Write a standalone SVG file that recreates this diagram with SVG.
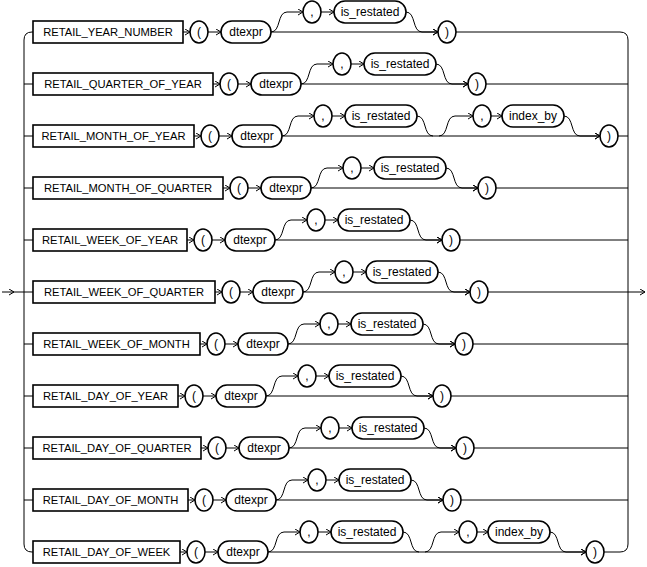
<svg xmlns="http://www.w3.org/2000/svg" width="647" height="567" viewBox="0 0 647 567">
<style>
.n{fill:#fff;stroke:#000;stroke-width:1.6}
.c{fill:none;stroke:#000;stroke-width:1}
.a{marker-end:url(#ar)}
text{font-family:"Liberation Sans",Arial,sans-serif;font-size:12px;text-anchor:middle;fill:#000}
.k{font-size:11.2px}
</style>
<defs>
<marker id="ar" markerWidth="7" markerHeight="8" refX="5" refY="3" orient="auto" markerUnits="userSpaceOnUse"><path d="M0,0 L5,3 L0,6" fill="none" stroke="#000" stroke-width="1"/></marker>
<g id="single">
<path class="c a" d="M0 0H7"/><path class="c a" d="M25 0H38"/><path class="c a" d="M88 0H255"/>
<path class="c a" d="M88 0C98 0 94 -20 104 -20H120"/><path class="c a" d="M138 -20H151"/>
<path class="c a" d="M223 -20C233 -20 229 0 239 0H255"/>
<ellipse class="n" cx="16" cy="0" rx="9" ry="11"/><text x="16" y="4">(</text>
<rect class="n" x="38" y="-11" width="50" height="22" rx="11"/><text x="63" y="4">dtexpr</text>
<ellipse class="n" cx="129" cy="-20" rx="9" ry="11"/><text x="129" y="-16">,</text>
<rect class="n" x="151" y="-31" width="72" height="22" rx="11"/><text x="187" y="-16">is_restated</text>
<ellipse class="n" cx="264" cy="0" rx="9" ry="11"/><text x="264" y="4">)</text>
</g>
<g id="double">
<path class="c a" d="M0 0H7"/><path class="c a" d="M25 0H38"/><path class="c a" d="M88 0H406"/>
<path class="c a" d="M88 0C98 0 94 -20 104 -20H120"/><path class="c a" d="M138 -20H151"/>
<path class="c" d="M223 -20C233 -20 229 0 239 0"/>
<path class="c a" d="M245 0C255 0 251 -20 261 -20H279"/><path class="c a" d="M297 -20H308"/>
<path class="c a" d="M370 -20C380 -20 376 0 386 0H406"/>
<ellipse class="n" cx="16" cy="0" rx="9" ry="11"/><text x="16" y="4">(</text>
<rect class="n" x="38" y="-11" width="50" height="22" rx="11"/><text x="63" y="4">dtexpr</text>
<ellipse class="n" cx="129" cy="-20" rx="9" ry="11"/><text x="129" y="-16">,</text>
<rect class="n" x="151" y="-31" width="72" height="22" rx="11"/><text x="187" y="-16">is_restated</text>
<ellipse class="n" cx="288" cy="-20" rx="9" ry="11"/><text x="288" y="-16">,</text>
<rect class="n" x="308" y="-31" width="62" height="22" rx="11"/><text x="339" y="-16">index_by</text>
<ellipse class="n" cx="415" cy="0" rx="9" ry="11"/><text x="415" y="4">)</text>
</g>
</defs>
<g id="connectors">
<path class="c a" d="M2 292H14"/><path class="c" d="M14 292H24"/>
<path class="c a" d="M628 292H645"/>
<path class="c" d="M33 32H32Q24 32 24 40V544Q24 552 32 552H33"/>
<path class="c" d="M24 84H33M24 136H33M24 188H33M24 240H33M24 292H33M24 344H33M24 396H33M24 448H33M24 500H33"/>
<path class="c" d="M456 32H620Q628 32 628 40V544Q628 552 620 552H604"/>
<path class="c" d="M486 84H628M618 136H628M496 188H628M460 240H628M488 292H628M473 344H628M451 396H628M474 448H628M461 500H628"/>
</g>
<g id="r1"><rect class="n" x="33" y="21" width="150" height="22"/><text class="k" x="108" y="36">RETAIL_YEAR_NUMBER</text><use href="#single" transform="translate(183,32)"/></g>
<g id="r2"><rect class="n" x="33" y="73" width="180" height="22"/><text class="k" x="123" y="88">RETAIL_QUARTER_OF_YEAR</text><use href="#single" transform="translate(213,84)"/></g>
<g id="r3"><rect class="n" x="33" y="125" width="161" height="22"/><text class="k" x="113.5" y="140">RETAIL_MONTH_OF_YEAR</text><use href="#double" transform="translate(194,136)"/></g>
<g id="r4"><rect class="n" x="33" y="177" width="190" height="22"/><text class="k" x="128" y="192">RETAIL_MONTH_OF_QUARTER</text><use href="#single" transform="translate(223,188)"/></g>
<g id="r5"><rect class="n" x="33" y="229" width="154" height="22"/><text class="k" x="110" y="244">RETAIL_WEEK_OF_YEAR</text><use href="#single" transform="translate(187,240)"/></g>
<g id="r6"><rect class="n" x="33" y="281" width="182" height="22"/><text class="k" x="124" y="296">RETAIL_WEEK_OF_QUARTER</text><use href="#single" transform="translate(215,292)"/></g>
<g id="r7"><rect class="n" x="33" y="333" width="167" height="22"/><text class="k" x="116.5" y="348">RETAIL_WEEK_OF_MONTH</text><use href="#single" transform="translate(200,344)"/></g>
<g id="r8"><rect class="n" x="33" y="385" width="145" height="22"/><text class="k" x="105.5" y="400">RETAIL_DAY_OF_YEAR</text><use href="#single" transform="translate(178,396)"/></g>
<g id="r9"><rect class="n" x="33" y="437" width="168" height="22"/><text class="k" x="117" y="452">RETAIL_DAY_OF_QUARTER</text><use href="#single" transform="translate(201,448)"/></g>
<g id="r10"><rect class="n" x="33" y="489" width="155" height="22"/><text class="k" x="110.5" y="504">RETAIL_DAY_OF_MONTH</text><use href="#single" transform="translate(188,500)"/></g>
<g id="r11"><rect class="n" x="33" y="541" width="147" height="22"/><text class="k" x="106.5" y="556">RETAIL_DAY_OF_WEEK</text><use href="#double" transform="translate(180,552)"/></g>
</svg>
